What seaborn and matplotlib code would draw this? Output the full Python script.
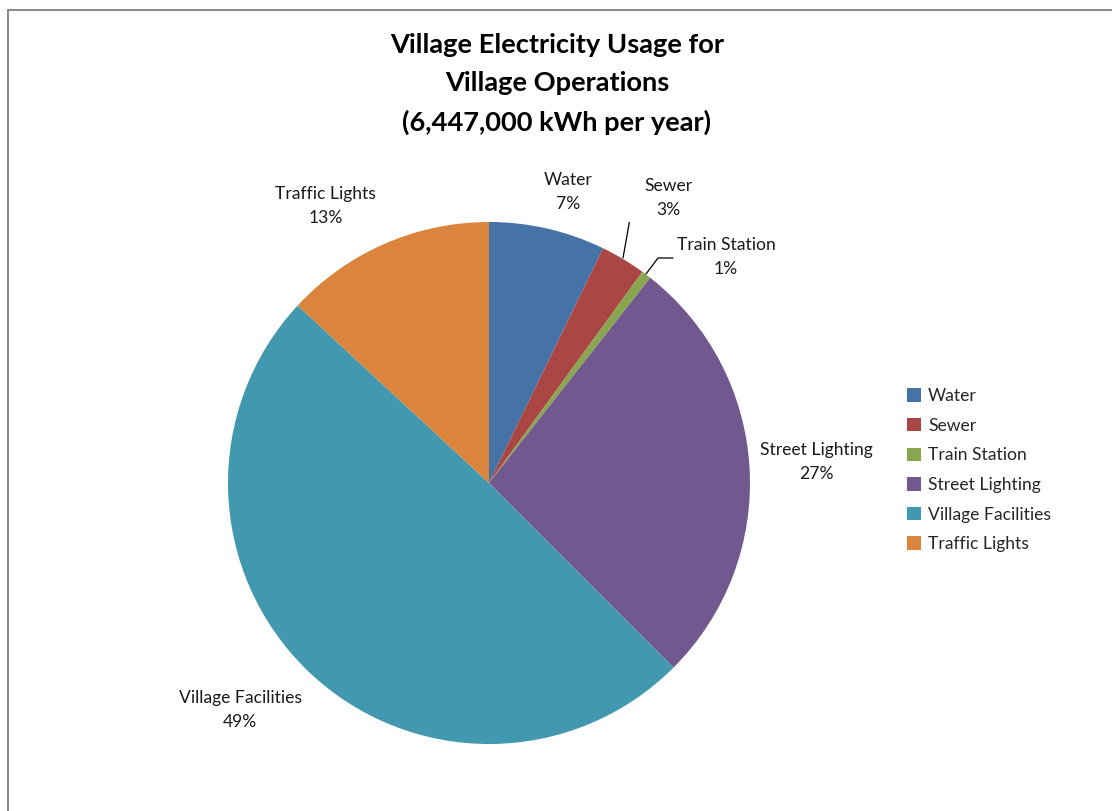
import matplotlib
matplotlib.use("Agg")
import matplotlib.pyplot as plt
from matplotlib.patches import Patch
from matplotlib.lines import Line2D
import seaborn as sns
import numpy as np

# Share of yearly electricity use (percent of 6,447,000 kWh)
categories = ["Water", "Sewer", "Train Station", "Street Lighting",
              "Village Facilities", "Traffic Lights"]
shares = [7.2, 2.8, 0.6, 26.9, 49.4, 13.1]
title_lines = ["Village Electricity Usage for", "Village Operations",
               "(6,447,000 kWh per year)"]

colors = ["#4572A7", "#AA4643", "#89A54E", "#71588F", "#4198AF", "#DB843D"]

sns.set_style("white")
plt.rcParams["font.family"] = ["Lato", "DejaVu Sans"]

W, H = 1112, 811
fig = plt.figure(figsize=(W / 100, H / 100), dpi=100)
fig.patch.set_facecolor("white")

# Pie occupies a square box centred at (489, 483) px with radius 261 px
cx, cy, r = 489, 483, 261
ax = fig.add_axes([(cx - r) / W, (H - cy - r) / H, 2 * r / W, 2 * r / H])
palette = sns.color_palette(colors)
wedges, _ = ax.pie(shares, colors=palette, startangle=90, counterclock=False,
                   radius=1.0, wedgeprops=dict(linewidth=0))
ax.set_xlim(-1, 1)
ax.set_ylim(-1, 1)
ax.set_aspect("auto")
ax.axis("off")

# Data labels (label centre in axes data units)
label_pos = [(0.303, 1.115), (0.686, 1.093), (0.908, 0.866), (1.253, 0.080),
             (-0.954, -0.870), (-0.625, 1.061)]
for name, v, (lx, ly) in zip(categories, shares, label_pos):
    ax.text(lx, ly, f"{name}\n{round(v):.0f}%", ha="center", va="center",
            fontsize=12.6, linespacing=1.62, color="#1a1a1a")

# Leader lines for the two thin slices
def px(x, y):
    return ((x - cx) / r, (cy - y) / r)

for pts in ([(623, 258), (634, 196), (648, 196)],
            [(646, 274), (658, 258), (673, 258)]):
    xs, ys = zip(*[px(*p) for p in pts])
    ax.add_line(Line2D(xs, ys, color="black", linewidth=0.9))

# Title
fig.text(557 / W, 1 - 33 / H, "\n".join(title_lines), ha="center", va="top",
         fontsize=19.6, fontweight="bold", linespacing=1.7, color="black")

# Legend
handles = [Patch(facecolor=c, edgecolor="none") for c in palette]
fig.legend(handles, categories, loc="upper left",
           bbox_to_anchor=(907 / W, 1 - 388 / H), frameon=False,
           fontsize=12.6, handlelength=0.8, handleheight=0.8,
           handletextpad=0.4, labelspacing=0.78, borderaxespad=0,
           borderpad=0)

# Chart area border (top and left edges visible)
fig.add_artist(Line2D([7.5 / W, 7.5 / W], [0, 1 - 9.5 / H],
                      transform=fig.transFigure, color="#888888", linewidth=1.4))
fig.add_artist(Line2D([7.5 / W, 1], [1 - 9.5 / H, 1 - 9.5 / H],
                      transform=fig.transFigure, color="#888888", linewidth=1.4))

fig.savefig("out.png", dpi=100, facecolor="white")
